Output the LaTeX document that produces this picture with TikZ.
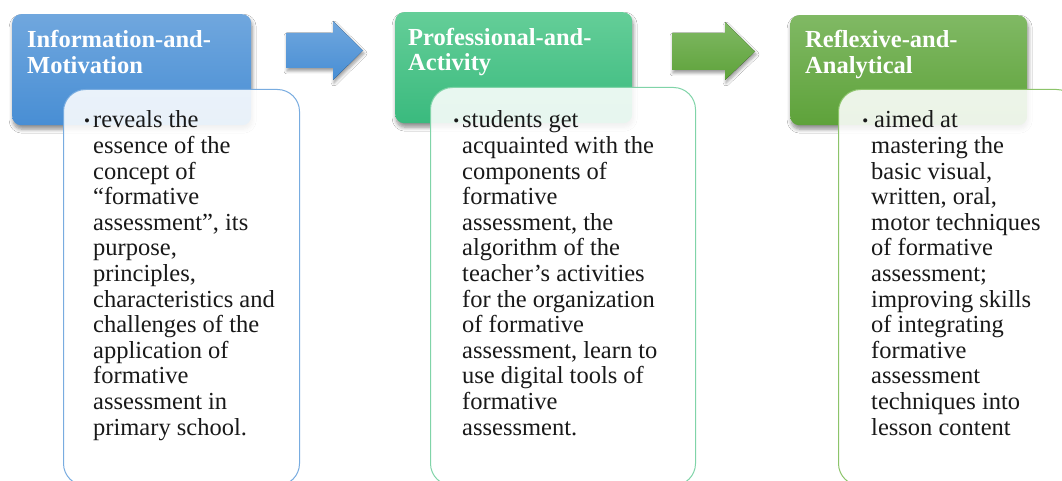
\documentclass[tikz,border=0pt]{standalone}
\usepackage{fontspec}
\setmainfont{Liberation Serif}
\usetikzlibrary{shadows.blur}
\definecolor{hbluet}{RGB}{112,167,222}
\definecolor{hblueb}{RGB}{72,142,212}
\definecolor{hteal}{RGB}{100,206,152}
\definecolor{htealb}{RGB}{58,186,126}
\definecolor{hgreent}{RGB}{128,185,100}
\definecolor{hgreenb}{RGB}{94,162,58}
\definecolor{bblue}{RGB}{120,172,224}
\definecolor{bteal}{RGB}{128,212,168}
\definecolor{bgreen}{RGB}{140,196,106}
\tikzset{
  header/.style={rectangle, rounded corners=9pt, inner sep=0pt, anchor=north west,
    blur shadow={shadow xshift=1pt, shadow yshift=-4pt, shadow blur radius=4pt, shadow blur steps=6, shadow opacity=45}},
  headtext/.style={anchor=base west, inner sep=0pt, text=white,
    font=\fontsize{24.5}{25.3}\selectfont\bfseries},
  detail/.style={rectangle, rounded corners=22pt, inner sep=0pt, anchor=north west,
    line width=1pt, fill=white, fill opacity=0.88},
  bodytext/.style={anchor=base west, inner sep=0pt, text=black!90,
    font=\fontsize{24.5}{25.6}\selectfont},
  blockarrow/.style={blur shadow={shadow xshift=1pt, shadow yshift=-3pt, shadow blur radius=3pt, shadow blur steps=5, shadow opacity=40}}
}
\newcommand{\bul}{\leavevmode\llap{{\fontsize{17}{17}\selectfont\raisebox{1.5pt}{\textbullet}}\hspace{3pt}}}
\begin{document}
\begin{tikzpicture}[x=1pt,y=-1pt]
\clip (0,0) rectangle (1062,481);
\fill[white] (0,0) rectangle (1062,481);
% arrows
\fill[blockarrow, top color=hbluet, bottom color=hblueb]
  (286,33) -- (333,33) -- (333,21) -- (363,50.5) -- (333,80) -- (333,68) -- (286,68) -- cycle;
\fill[blockarrow, top color=hgreent, bottom color=hgreenb]
  (672,33) -- (725,33) -- (725,22) -- (755,51.5) -- (725,80) -- (725,70) -- (672,70) -- cycle;
% headers
\node[header, top color=hbluet, bottom color=hblueb, minimum width=239pt, minimum height=111pt] (h1) at (12,14) {};
\node[header, top color=hteal, bottom color=htealb, minimum width=237pt, minimum height=111pt] (h2) at (395,12) {};
\node[header, top color=hgreent, bottom color=hgreenb, minimum width=237pt, minimum height=110pt] (h3) at (790,15) {};
\node[headtext] (t1) at (27,48) {\parbox[t]{230pt}{Information-and-\\Motivation}};
\node[headtext] (t2) at (408,45.5) {\parbox[t]{230pt}{Professional-and-\\Activity}};
\node[headtext] (t3) at (805,48) {\parbox[t]{230pt}{Reflexive-and-\\Analytical}};
% details
\node[detail, draw=bblue, minimum width=236pt, minimum height=396pt] (d1) at (63,89) {};
\node[detail, draw=bteal, minimum width=265pt, minimum height=398pt] (d2) at (430,87) {};
\node[detail, draw=bgreen, minimum width=240pt, minimum height=396pt] (d3) at (838,89) {};
\node[bodytext] (b1) at (93,128) {\parbox[t]{220pt}{\raggedright
\bul reveals the\\
essence of the\\
concept of\\
``formative\\
assessment'', its\\
purpose,\\
principles,\\
characteristics and\\
challenges of the\\
application of\\
formative\\
assessment in\\
primary school.}};
\node[bodytext] (b2) at (462,128) {\parbox[t]{230pt}{\raggedright
\bul students get\\
acquainted with the\\
components of\\
formative\\
assessment, the\\
algorithm of the\\
teacher’s activities\\
for the organization\\
of formative\\
assessment, learn to\\
use digital tools of\\
formative\\
assessment.}};
\node[bodytext] (b3) at (871,128) {\parbox[t]{220pt}{\raggedright
\bul\hspace{3pt}aimed at\\
mastering the\\
basic visual,\\
written, oral,\\
motor techniques\\
of formative\\
assessment;\\
improving skills\\
of integrating\\
formative\\
assessment\\
techniques into\\
lesson content}};
\end{tikzpicture}
\end{document}
